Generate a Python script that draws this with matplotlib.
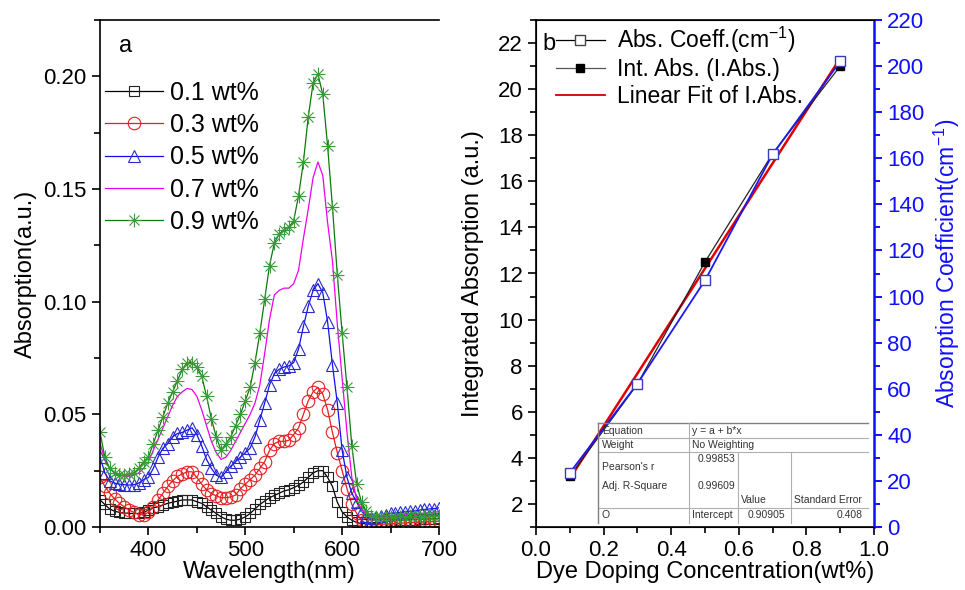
import numpy as np
import matplotlib
matplotlib.use("Agg")
import matplotlib.pyplot as plt
from matplotlib.path import Path
from matplotlib.lines import Line2D
from matplotlib.ticker import MultipleLocator

plt.rcParams['font.family'] = ['Liberation Sans', 'DejaVu Sans']
plt.rcParams['mathtext.fontset'] = 'custom'
plt.rcParams['mathtext.rm'] = 'Liberation Sans'
plt.rcParams['mathtext.it'] = 'Liberation Sans:italic'

# ---------------- Panel a data ----------------
wavelength = np.arange(350, 701, 5)
labels_a = ['0.1 wt%', '0.3 wt%', '0.5 wt%', '0.7 wt%', '0.9 wt%']

abs_01 = [0.012, 0.010, 0.008, 0.007, 0.0065, 0.0062, 0.006, 0.006, 0.006, 0.0065,
          0.0075, 0.0085, 0.009, 0.0098, 0.0105, 0.011, 0.0115, 0.012, 0.012, 0.012,
          0.0112, 0.0105, 0.009, 0.0075, 0.006, 0.0045, 0.0035, 0.003, 0.003, 0.0035,
          0.0045, 0.006, 0.008, 0.010, 0.0115, 0.013, 0.014, 0.015, 0.016, 0.0165,
          0.0175, 0.0185, 0.020, 0.022, 0.024, 0.025, 0.025, 0.022, 0.018, 0.011,
          0.0067, 0.0045, 0.003, 0.002, 0.0015, 0.0015, 0.0018, 0.002, 0.0022, 0.0024,
          0.0026, 0.0028, 0.003, 0.0031, 0.0032, 0.0033, 0.0034, 0.0035, 0.0036, 0.0037,
          0.0038]
abs_03 = [0.022, 0.018, 0.015, 0.0125, 0.0105, 0.009, 0.0075, 0.0065, 0.0055, 0.0055,
          0.0065, 0.009, 0.012, 0.015, 0.018, 0.0205, 0.0225, 0.0235, 0.0245, 0.0245,
          0.022, 0.019, 0.0165, 0.0148, 0.0138, 0.013, 0.013, 0.0133, 0.0142, 0.017,
          0.019, 0.021, 0.023, 0.026, 0.029, 0.034, 0.037, 0.038, 0.038, 0.0385,
          0.041, 0.044, 0.050, 0.056, 0.060, 0.062, 0.059, 0.052, 0.042, 0.033,
          0.025, 0.017, 0.010, 0.006, 0.003, 0.0015, 0.001, 0.001, 0.0012, 0.0013,
          0.0014, 0.0015, 0.0017, 0.0018, 0.002, 0.0021, 0.0022, 0.0023, 0.0024, 0.0025,
          0.0026]
abs_05 = [0.031, 0.024, 0.0205, 0.0195, 0.019, 0.0188, 0.0186, 0.0188, 0.0195, 0.021,
          0.022, 0.026, 0.031, 0.035, 0.037, 0.040, 0.0415, 0.042, 0.043, 0.044,
          0.041, 0.036, 0.030, 0.026, 0.023, 0.022, 0.0245, 0.027, 0.029, 0.031,
          0.033, 0.035, 0.040, 0.0475, 0.055, 0.063, 0.068, 0.070, 0.071, 0.0715,
          0.073, 0.079, 0.089, 0.098, 0.105, 0.108, 0.104, 0.091, 0.072, 0.055,
          0.034, 0.022, 0.015, 0.011, 0.007, 0.005, 0.004, 0.0045, 0.005, 0.0055,
          0.006, 0.0062, 0.0065, 0.0068, 0.007, 0.0072, 0.0075, 0.0078, 0.008, 0.0082,
          0.0085]
abs_07 = [0.037, 0.030, 0.026, 0.024, 0.023, 0.0225, 0.0225, 0.023, 0.024, 0.026,
          0.029, 0.034, 0.039, 0.044, 0.049, 0.054, 0.058, 0.060, 0.0615, 0.061,
          0.058, 0.052, 0.045, 0.038, 0.033, 0.030, 0.031, 0.034, 0.038, 0.042,
          0.046, 0.050, 0.055, 0.063, 0.077, 0.092, 0.103, 0.105, 0.106, 0.106,
          0.108, 0.114, 0.128, 0.141, 0.155, 0.162, 0.156, 0.135, 0.118, 0.090,
          0.066, 0.042, 0.022, 0.012, 0.008, 0.0055, 0.005, 0.005, 0.005, 0.005,
          0.005, 0.005, 0.0052, 0.0054, 0.0056, 0.0058, 0.006, 0.0062, 0.0064, 0.0066,
          0.0068]
abs_09 = [0.042, 0.031, 0.026, 0.024, 0.023, 0.023, 0.0235, 0.024, 0.026, 0.029,
          0.031, 0.037, 0.043, 0.049, 0.055, 0.060, 0.065, 0.070, 0.073, 0.073,
          0.071, 0.067, 0.058, 0.048, 0.040, 0.034, 0.037, 0.040, 0.045, 0.050,
          0.056, 0.062, 0.073, 0.086, 0.101, 0.116, 0.126, 0.130, 0.132, 0.133,
          0.136, 0.147, 0.162, 0.182, 0.197, 0.201, 0.192, 0.169, 0.142, 0.112,
          0.086, 0.062, 0.036, 0.019, 0.011, 0.007, 0.005, 0.0045, 0.0045, 0.0045,
          0.0045, 0.0045, 0.0045, 0.0046, 0.0047, 0.0048, 0.0049, 0.005, 0.005, 0.005,
          0.005]

# ---------------- Panel b data ----------------
conc = [0.1, 0.3, 0.5, 0.7, 0.9]
int_abs = [3.2, 7.2, 12.5, 17.2, 21.0]
abs_coeff = [23.5, 62.2, 107.0, 161.7, 202.0]

# ---------------- Figure ----------------
W, H = 965, 590
fig = plt.figure(figsize=(W / 100, H / 100), dpi=100)

def rect(l, r, t, b):
    return [l / W, 1 - b / H, (r - l) / W, (b - t) / H]

axa = fig.add_axes(rect(100, 439, 20, 527))
axb = fig.add_axes(rect(536, 874, 20, 527))

TICK = 16
LAB = 17

star = Path([(-1, 0), (1, 0), (0, -1), (0, 1), (-0.72, -0.72), (0.72, 0.72),
             (-0.72, 0.72), (0.72, -0.72)],
            [Path.MOVETO, Path.LINETO] * 4)

styles = [
    dict(color='black', marker='s', mfc='none', mec='#222222', ms=7.5),
    dict(color='#ee1c1c', marker='o', mfc='none', mec='#e02020', ms=9),
    dict(color='#1010ee', marker='^', mfc='none', mec='#2a2acc', ms=9),
    dict(color='#ee00ee', marker=None),
    dict(color='#0a7a0a', marker=star, mfc='none', mec='#3a9a3a', ms=10),
]
series = [abs_01, abs_03, abs_05, abs_07, abs_09]
for y, lab, st in zip(series, labels_a, styles):
    axa.plot(wavelength, y, lw=0.9, mew=0.8, label=lab, **st)

axa.set_xlim(350, 700)
axa.set_ylim(0, 0.225)
axa.xaxis.set_major_locator(MultipleLocator(100))
axa.xaxis.set_minor_locator(MultipleLocator(50))
axa.yaxis.set_minor_locator(MultipleLocator(0.025))
axa.set_yticks([0, 0.05, 0.10, 0.15, 0.20])
axa.set_yticklabels(['0.00', '0.05', '0.10', '0.15', '0.20'])
axa.spines['right'].set_visible(False)
for s in ['left', 'bottom', 'top']:
    axa.spines[s].set_linewidth(1.2)
axa.tick_params(which='both', direction='out', width=1.2, labelsize=TICK,
                top=False, right=False)
axa.tick_params(which='major', length=6)
axa.tick_params(which='minor', length=4)
axa.set_xlabel('Wavelength(nm)', fontsize=LAB)
axa.set_ylabel('Absorption(a.u.)', fontsize=LAB)
axa.xaxis.set_label_coords(0.5, -0.068)
axa.yaxis.set_label_coords(-0.185, 0.5)
axa.text(0.055, 0.97, 'a', transform=axa.transAxes, fontsize=LAB,
         va='top', ha='left')
axa.legend(loc='upper left', bbox_to_anchor=(0.0, 0.89), frameon=False,
           fontsize=18, handlelength=2.3, handletextpad=0.3,
           labelspacing=0.33, borderaxespad=0.0, borderpad=0.2)

# ---------------- Panel b ----------------
axb2 = axb.twinx()
axb.plot(conc, int_abs, color='#222222', lw=0.9, marker='s', ms=5.5,
         mfc='black', mec='black', zorder=3)
slope, intercept = np.polyfit(conc, int_abs, 1)
fit_x = np.array([conc[0], conc[-1]])
axb.plot(fit_x, intercept + slope * fit_x, color='#e00000', lw=1.8, zorder=2)
axb2.plot(conc, abs_coeff, color='#1a1af0', lw=1.3, marker='s', ms=7.5,
          mfc='white', mec='#3a3ac0', mew=1.0, zorder=3)

axb.set_xlim(0, 1.0)
axb.set_ylim(1, 23)
axb2.set_ylim(0, 220)
axb.xaxis.set_minor_locator(MultipleLocator(0.1))
axb.yaxis.set_major_locator(MultipleLocator(2))
axb.yaxis.set_minor_locator(MultipleLocator(1))
axb2.yaxis.set_major_locator(MultipleLocator(20))
axb2.yaxis.set_minor_locator(MultipleLocator(10))
for s in ['left', 'bottom', 'top']:
    axb.spines[s].set_linewidth(1.2)
axb2.spines['right'].set_color('#1010ff')
axb2.spines['right'].set_linewidth(1.8)
axb.tick_params(which='both', direction='out', width=1.2, labelsize=TICK)
axb.tick_params(which='major', length=6)
axb.tick_params(which='minor', length=4)
axb2.tick_params(which='both', direction='out', width=1.4, labelsize=TICK,
                 color='#1010ff', labelcolor='#1010ff')
axb2.tick_params(which='major', length=6)
axb2.tick_params(which='minor', length=4)
axb.set_xticks([0.0, 0.2, 0.4, 0.6, 0.8, 1.0])
axb.set_xticklabels(['0.0', '0.2', '0.4', '0.6', '0.8', '1.0'])

axb.set_xlabel('Dye Doping Concentration(wt%)', fontsize=LAB)
axb.set_ylabel('Integrated Absorption (a.u.)', fontsize=LAB)
axb2.set_ylabel('Absorption Coefficient(cm$^{\\mathrm{-1}}$)', fontsize=16.5,
                color='#1010ff')
axb.xaxis.set_label_coords(0.5, -0.068)
axb.yaxis.set_label_coords(-0.155, 0.5)
axb2.yaxis.set_label_coords(1.172, 0.52)

handles = [
    Line2D([], [], color='black', lw=0.9, marker='s', ms=7.5, mfc='white',
           mec='#444444'),
    Line2D([], [], color='#555555', lw=0.9, marker='s', ms=5.5, mfc='black',
           mec='black'),
    Line2D([], [], color='#d00000', lw=1.3),
]
leg_labels = ['Abs. Coeff.(cm$^{\\mathrm{-1}}$)', 'Int. Abs. (I.Abs.)',
              'Linear Fit of I.Abs.']
axb2.legend(handles, leg_labels, loc='upper left', bbox_to_anchor=(0.045, 1.0),
            frameon=False, fontsize=16.5, handlelength=2.15, handletextpad=0.5,
            labelspacing=0.15, borderaxespad=0.0, borderpad=0.2)
axb.text(0.018, 0.975, 'b', transform=axb.transAxes, fontsize=LAB,
         va='top', ha='left')

# ---------------- Fit result table ----------------
tab_color = '#333333'
line_color = '#b0b0b0'

def px(x, y):
    return x / W, 1 - y / H

def hline(y, x0, x1, c=line_color, lw=0.8):
    fig.add_artist(Line2D([x0 / W, x1 / W], [1 - y / H, 1 - y / H],
                          color=c, lw=lw, transform=fig.transFigure))

def vline(x, y0, y1, c=line_color, lw=0.8):
    fig.add_artist(Line2D([x / W, x / W], [1 - y0 / H, 1 - y1 / H],
                          color=c, lw=lw, transform=fig.transFigure))

hline(423, 598, 868, c='#808080', lw=1.0)
hline(438, 598, 868)
hline(452, 598, 868)
hline(508, 598, 868)
vline(598, 423, 523, c='#808080', lw=1.0)
vline(689, 423, 523)
vline(738, 452, 523)
vline(791, 452, 523)

TS = 7.5
cells = [
    (602, 431, 'Equation', 'left'), (692, 431, 'y = a + b*x', 'left'),
    (602, 445, 'Weight', 'left'), (692, 445, 'No Weighting', 'left'),
    (735, 459, '0.99853', 'right'), (602, 467, "Pearson's r", 'left'),
    (602, 486, 'Adj. R-Square', 'left'), (735, 486, '0.99609', 'right'),
    (741, 500, 'Value', 'left'), (794, 500, 'Standard Error', 'left'),
    (602, 515, 'O', 'left'), (692, 515, 'Intercept', 'left'),
    (785, 515, '0.90905', 'right'), (863, 515, '0.408', 'right'),
]
for x, y, t, ha in cells:
    xx, yy = px(x, y)
    fig.text(xx, yy, t, fontsize=TS, color=tab_color, ha=ha, va='center')

fig.savefig('out.png', dpi=100)
